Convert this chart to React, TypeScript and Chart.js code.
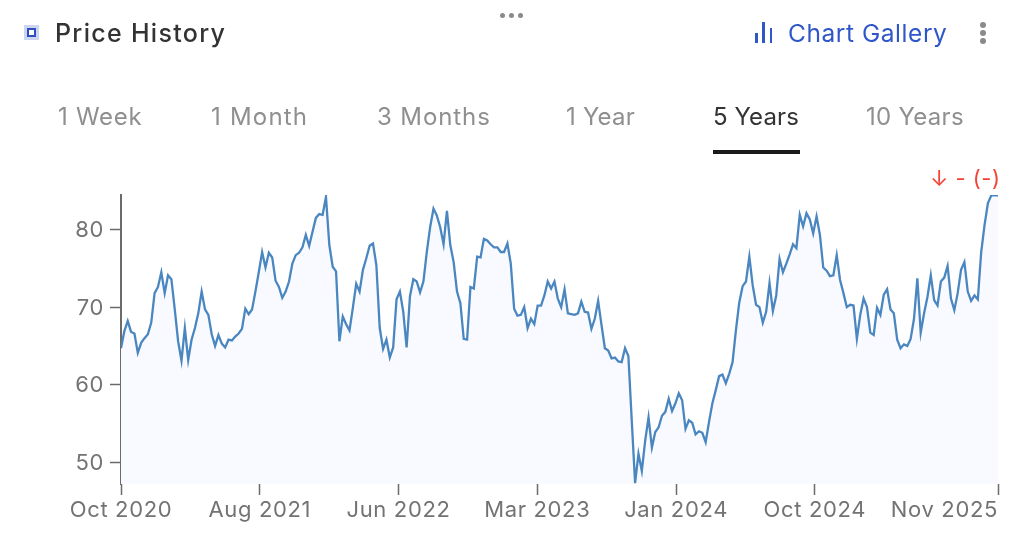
import React, { useEffect, useRef } from "react";
import { Chart, registerables } from "chart.js";

Chart.register(...registerables);

const prices: number[] = [
  64.7, 66.9, 68.2, 66.8, 66.6, 64.1, 65.4, 66, 66.5, 68,
  71.8, 72.6, 74.5, 71.8, 74.1, 73.6, 69.7, 65.6, 63.1, 67.3,
  63.2, 65.8, 67.3, 69.2, 72, 69.7, 69, 66.5, 65, 66.4,
  65.3, 64.8, 65.8, 65.7, 66.2, 66.6, 67.2, 69.8, 69.1, 69.7,
  72, 74.5, 77.1, 75.1, 77, 76.4, 73.4, 72.6, 71.2, 72,
  73.3, 75.6, 76.7, 77, 77.7, 79.3, 77.9, 79.7, 81.5, 82,
  81.9, 84.2, 78, 75.2, 74.6, 65.6, 68.8, 67.8, 67, 69.9,
  73, 72, 74.8, 76.3, 77.9, 78.2, 75.4, 67.3, 64.6, 65.8,
  63.5, 64.8, 71, 72, 69.4, 64.8, 71.4, 73.6, 73.3, 71.9,
  73.3, 77.1, 80.3, 82.7, 81.8, 80.3, 78.1, 82.4, 78, 75.8,
  72, 70.5, 65.9, 65.8, 72.6, 72.4, 76.5, 76.4, 78.8, 78.6,
  78.1, 77.7, 77.7, 77.1, 77.1, 78.2, 75.6, 69.8, 68.9, 69,
  70, 67.3, 68.5, 67.8, 70.2, 70.2, 71.5, 73.3, 72.4, 73.3,
  71.1, 70, 72.3, 69.2, 69.1, 69, 69.2, 70.7, 69.4, 69.3,
  67.2, 68.5, 70.8, 67.7, 64.7, 64.4, 63.4, 63.5, 63, 62.9,
  64.7, 63.7, 55.4, 47.3, 51.1, 48.9, 52.8, 55.8, 51.9, 53.9,
  54.5, 56, 56.5, 58.2, 56.6, 57.6, 58.9, 58, 54.3, 55.4,
  55.1, 53.6, 54, 53.8, 52.6, 55.2, 57.6, 59.3, 61.1, 61.3,
  60.2, 61.4, 62.9, 67, 70.6, 72.7, 73.3, 76.5, 72.8, 70.3,
  70, 68, 69.4, 73.1, 69.5, 71.5, 76.2, 74.5, 75.6, 76.8,
  78.1, 77.6, 81.9, 80.4, 82.1, 81.3, 79.5, 81.7, 79.3, 75.1,
  74.7, 74, 74.1, 76.7, 73.5, 71.8, 70, 70.3, 70.2, 65.9,
  69, 71.1, 70, 66.7, 66.4, 69.9, 69, 71.6, 72.3, 69.7,
  69.2, 65.8, 64.7, 65.2, 65, 65.9, 68.5, 73.7, 66.7, 69.2,
  71.3, 74.1, 70.9, 70.2, 73.3, 73.8, 75.3, 71.1, 69.6, 71.8,
  74.8, 75.8, 72, 70.8, 71.5, 71, 77.1, 80.6, 83.4, 84.4,
  84.4, 84.4,
];

const dateTicks = [0, 41.3, 82.6, 123.9, 165.2, 206.5, 261];
const dateLabels = ["Oct 2020", "Aug 2021", "Jun 2022", "Mar 2023", "Jan 2024", "Oct 2024", "Nov 2025"];
const priceTicks = [50, 60, 70, 80];
const tabs = ["1 Week", "1 Month", "3 Months", "1 Year", "5 Years", "10 Years"];
const tabLefts = [58, 211, 377, 566, 713, 866];
const tabSpacing = [0.7, 1.2, 0.9, 0.2, 0.1, 0.3];

const FONT = "Inter, sans-serif";
const AXIS = "#6b6b6b";
const TICK_TEXT = "#737373";

// tick text is a bit wider in the original, and the last date label
// sits flush with the right edge while the others are centred
const axisText = {
  id: "axisText",
  beforeDraw(chart: Chart) {
    (chart.ctx as any).letterSpacing = "0.65px";
  },
  afterDraw(chart: Chart) {
    const { ctx, scales } = chart;
    const last = dateTicks.length - 1;
    ctx.save();
    ctx.font = `22px ${FONT}`;
    ctx.fillStyle = TICK_TEXT;
    ctx.textAlign = "right";
    ctx.textBaseline = "alphabetic";
    ctx.fillText(dateLabels[last], scales.x.getPixelForValue(dateTicks[last]), 517);
    ctx.restore();
  },
};

const text = (left: number, top: number, size: number, color: string, extra: React.CSSProperties = {}) => ({
  position: "absolute" as const,
  left,
  top,
  fontSize: size,
  lineHeight: "30px",
  color,
  fontFamily: FONT,
  whiteSpace: "nowrap" as const,
  ...extra,
});

const dot = (left: number, top: number, size: number): React.CSSProperties => ({
  position: "absolute",
  left,
  top,
  width: size,
  height: size,
  borderRadius: "50%",
  background: "#8a8a8a",
});

const bar = (left: number, top: number, height: number): React.CSSProperties => ({
  position: "absolute",
  left,
  top,
  width: 2.5,
  height,
  background: "#2f57c9",
});

export default function App() {
  const canvasRef = useRef<HTMLCanvasElement>(null);

  useEffect(() => {
    if (!canvasRef.current) return;
    const chart = new Chart(canvasRef.current, {
      type: "line",
      data: {
        datasets: [
          {
            data: prices.map((y, x) => ({ x, y })),
            borderColor: "#4a86bf",
            borderWidth: 2.3,
            backgroundColor: "#f9faff",
            fill: "start",
            pointRadius: 0,
            tension: 0,
          },
        ],
      },
      options: {
        animation: false,
        responsive: false,
        devicePixelRatio: 1,
        layout: { padding: { left: 0, top: 195, right: 26, bottom: 0 } },
        plugins: { legend: { display: false }, tooltip: { enabled: false } },
        scales: {
          x: {
            type: "linear",
            min: 0,
            max: 261,
            afterBuildTicks: (axis) => {
              axis.ticks = dateTicks.map((value) => ({ value }));
            },
            afterFit: (axis) => {
              axis.height = 75;
            },
            border: { display: false },
            grid: { drawOnChartArea: false, drawTicks: true, tickLength: 11, tickColor: AXIS, tickWidth: 1.5 },
            ticks: {
              autoSkip: false,
              maxRotation: 0,
              padding: 2,
              color: TICK_TEXT,
              font: { family: FONT, size: 22 },
              callback: (_v, i) => (i === dateLabels.length - 1 ? "" : dateLabels[i]),
            },
          },
          y: {
            min: 47.2,
            max: 84.45,
            afterBuildTicks: (axis) => {
              axis.ticks = priceTicks.map((value) => ({ value }));
            },
            afterFit: (axis) => {
              axis.width = 121;
            },
            border: { display: true, color: AXIS, width: 2 },
            grid: { drawOnChartArea: false, drawTicks: true, tickLength: 11, tickColor: AXIS, tickWidth: 1.5 },
            ticks: {
              padding: 6,
              labelOffset: 1,
              color: TICK_TEXT,
              font: { family: FONT, size: 22 },
            },
          },
        },
      },
      plugins: [axisText],
    });
    return () => chart.destroy();
  }, []);

  return (
    <div style={{ position: "absolute", left: 0, top: 0, width: 1024, height: 559, overflow: "hidden", background: "#fff" }}>
      <canvas ref={canvasRef} width={1024} height={559} style={{ position: "absolute", left: 0, top: 0 }} />

      <div style={{ position: "absolute", left: 24, top: 25, width: 15, height: 15, background: "#ccd6f3" }} />
      <div style={{ position: "absolute", left: 27, top: 28, width: 9, height: 9, boxSizing: "border-box", border: "2px solid #2f4fc0", background: "#fff" }} />
      <span style={text(55, 18, 25, "#333333", { fontWeight: 500, letterSpacing: 1.3 })}>Price History</span>

      <div style={dot(500, 13, 5)} />
      <div style={dot(509, 13, 5)} />
      <div style={dot(518, 13, 5)} />

      <div style={bar(755, 33, 10)} />
      <div style={bar(762, 22, 21)} />
      <div style={bar(769.5, 28, 15)} />
      <span style={text(788, 18, 24.5, "#2f57c9", { letterSpacing: 0.55 })}>Chart Gallery</span>
      <div style={dot(980, 22, 6)} />
      <div style={dot(980, 30, 6)} />
      <div style={dot(980, 38, 6)} />

      {tabs.map((t, i) => (
        <span key={t} style={text(tabLefts[i], 102, 24, i === 4 ? "#333333" : "#8f8f8f", { letterSpacing: tabSpacing[i] })}>
          {t}
        </span>
      ))}
      <div style={{ position: "absolute", left: 713, top: 150, width: 87, height: 4, background: "#1a1a1a" }} />

      <span style={text(930, 163, 22, "#f44336", { letterSpacing: 0.5 })}>↓ - (-)</span>
    </div>
  );
}
